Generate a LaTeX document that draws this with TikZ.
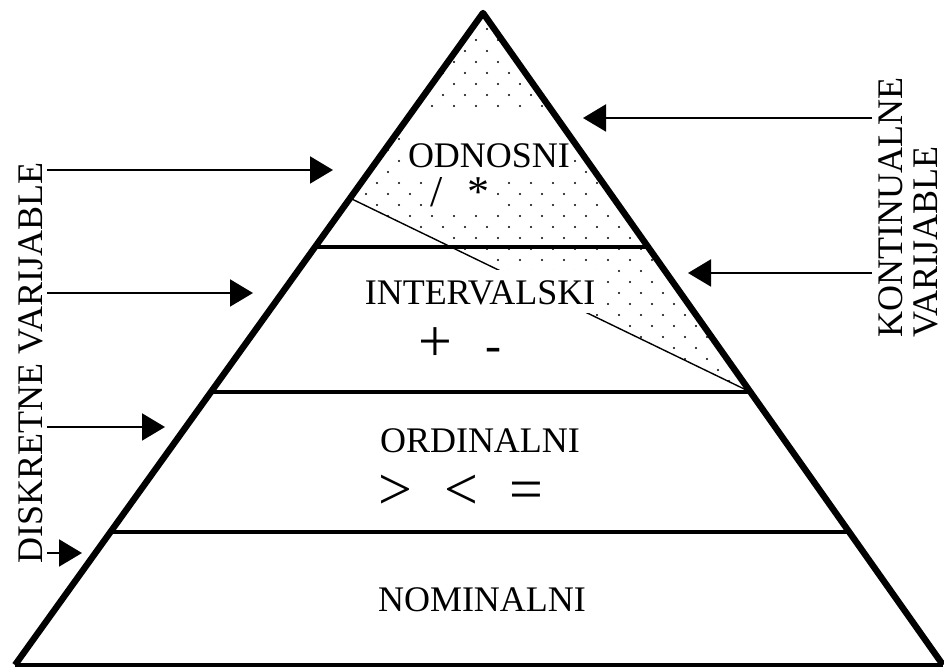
\documentclass[tikz,border=0pt]{standalone}
\usepackage{fontspec}
\setmainfont{Liberation Serif}
\usepackage{tikz}
\usetikzlibrary{arrows.meta,calc}

\begin{document}
\begin{tikzpicture}[x=0.5pt,y=0.5pt,
        lvl/.style={font=\fontsize{18}{20}\selectfont,inner sep=2pt},
        sym/.style={font=\fontsize{30}{32}\selectfont,inner sep=2pt},
        side/.style={line width=3.2pt,line join=round},
        tier/.style={line width=2.2pt},
        thin/.style={line width=0.7pt},
        arr/.style={-{Triangle[length=11.5pt,width=13.5pt]},line width=1pt}
      ]
        \useasboundingbox (0,0) rectangle (944,668);
        \coordinate (top) at (483,655);
        \coordinate (bl) at (15,3);
        \coordinate (br) at (943,3);
        \coordinate (l3) at ($(top)!0.359!(bl)$);  \coordinate (r3) at ($(top)!0.359!(br)$);
        \coordinate (l2) at ($(top)!0.5813!(bl)$); \coordinate (r2) at ($(top)!0.5813!(br)$);
        \coordinate (l1) at ($(top)!0.796!(bl)$);  \coordinate (r1) at ($(top)!0.796!(br)$);
        \coordinate (dg) at ($(top)!0.284!(bl)$);
        % dotted part
        \begin{scope}
          \clip (top) -- (r2) -- (dg) -- cycle;
          \foreach \r in {0,...,36}
            \foreach \c in {0,...,22}
              \fill ({300+22*\c+mod(\r,2)*11},{650-11*\r}) circle[radius=0.55pt];
        \end{scope}
        \draw[thin] (dg) -- (r2);
        % levels
        \node[lvl,fill=white,text height=26pt,text depth=2pt,inner ysep=1pt,anchor=base] (odn) at (489,500) {ODNOSNI};
        \node[lvl,fill=white,font=\fontsize{22}{24}\selectfont,inner sep=4pt,anchor=base] (ops4) at (460,461) {/\hspace{12pt}*};
        \node[lvl,fill=white,text height=17.5pt,text depth=4pt,inner ysep=0pt,inner xsep=3pt,anchor=base] (int) at (480,363) {INTERVALSKI};
        \node[sym,anchor=base] (ops3) at (460,306) {+\hspace{17pt}{\fontsize{24}{26}\selectfont -}};
        \node[lvl,anchor=base] (ord) at (480,215) {ORDINALNI};
        \node[sym,anchor=base] (ops2) at (461,158) {>\hspace{16pt}<\hspace{16pt}=};
        \node[lvl,anchor=base] (nom) at (482,56) {NOMINALNI};
        % pyramid
        \draw[side] (bl) -- (top) -- (br);
        \draw[tier] (bl) -- (br);
        \draw[tier] (l1) -- (r1);
        \draw[tier] (l2) -- (r2);
        \draw[tier] (l3) -- (r3);
        % side labels and arrows
        \node[lvl,rotate=90,anchor=base] (dv) at (42,305) {DISKRETNE VARIJABLE};
        \node[lvl,rotate=90,align=left,anchor=south west,inner sep=3pt,
              font=\fontsize{18}{17.5}\selectfont] (kv) at (944,324) {KONTINUALNE\\VARIJABLE};
        \coordinate (d1) at (333,498);
        \coordinate (d2) at (253,375);
        \coordinate (d3) at (165,241);
        \coordinate (d4) at (82,115);
        \coordinate (k1) at (583,550);
        \coordinate (k2) at (688,395);
        \foreach \t in {d1,d2,d3,d4}
          \draw[arr] (dv.south |- \t) -- (\t);
        \foreach \t in {k1,k2}
          \draw[arr] (kv.north |- \t) -- (\t);
\end{tikzpicture}
\end{document}
